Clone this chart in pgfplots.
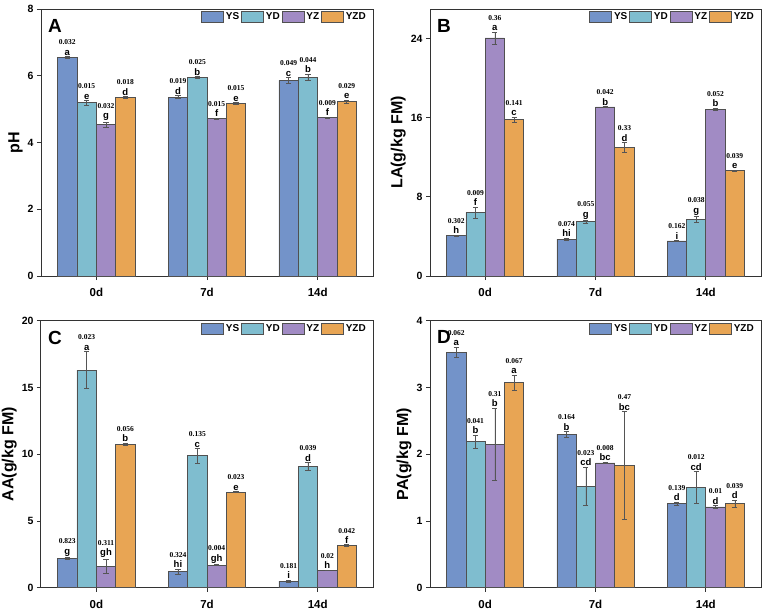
\documentclass[border=0pt]{standalone}
\usepackage{pgfplots}
\pgfplotsset{compat=1.18}
\usepackage{pgfplotstable}
\usepackage{fontspec}
\setmainfont{Liberation Sans}
\newfontfamily\numfont{Liberation Serif}

\definecolor{cYS}{HTML}{7393C9}
\definecolor{cYD}{HTML}{7FBDCF}
\definecolor{cYZ}{HTML}{A18BC4}
\definecolor{cYZD}{HTML}{E8A554}
\definecolor{bardraw}{HTML}{505050}
\definecolor{errc}{HTML}{555555}

% per treatment: mean, error, and label "SD/letter"
\pgfplotstableread{
x YS YSe YSl YD YDe YDl YZ YZe YZl YZD YZDe YZDl
0 6.55 0.03 0.032/a 5.19 0.07 0.015/e 4.54 0.07 0.032/g 5.34 0.03 0.018/d
1 5.36 0.04 0.019/d 5.95 0.03 0.025/b 4.72 0.02 0.015/f 5.17 0.03 0.015/e
2 5.86 0.09 0.049/c 5.95 0.10 0.044/b 4.74 0.02 0.009/f 5.22 0.05 0.029/e
}\tabPH

\pgfplotstableread{
x YS YSe YSl YD YDe YDl YZ YZe YZl YZD YZDe YZDl
0 4.08 0.05 0.302/h  6.43 0.55 0.009/f 24.08 0.60 0.36/a  15.80 0.25 0.141/c
1 3.74 0.10 0.074/hi 5.49 0.15 0.055/g 17.10 0.05 0.042/b 13.00 0.50 0.33/d
2 3.54 0.05 0.162/i  5.70 0.30 0.038/g 16.87 0.10 0.052/b 10.68 0.05 0.039/e
}\tabLA

\pgfplotstableread{
x YS YSe YSl YD YDe YDl YZ YZe YZl YZD YZDe YZDl
0 2.20 0.05 0.823/g  16.30 1.40 0.023/a 1.60 0.55 0.311/gh 10.76 0.07 0.056/b
1 1.20 0.20 0.324/hi  9.88 0.56 0.135/c 1.70 0.05 0.004/gh  7.16 0.03 0.023/e
2 0.50 0.07 0.181/i   9.08 0.30 0.039/d 1.32 0.02 0.02/h    3.17 0.05 0.042/f
}\tabAA

\pgfplotstableread{
x YS YSe YSl YD YDe YDl YZ YZe YZl YZD YZDe YZDl
0 3.53 0.075 0.062/a 2.19 0.10 0.041/b  2.15 0.54 0.31/b   3.07 0.115 0.067/a
1 2.30 0.04  0.164/b 1.52 0.29 0.023/cd 1.87 0.01 0.008/bc 1.83 0.81  0.47/bc
2 1.26 0.02  0.139/d 1.50 0.24 0.012/cd 1.21 0.02 0.01/d   1.26 0.05  0.039/d
}\tabPA

% "SD/letter" -> SD in serif over the letter in sans
\def\twolines#1/#2\relax{{\numfont\bfseries\fontsize{7.5}{8}\selectfont #1}\\[-1.5pt]{\bfseries\fontsize{9.5}{10}\selectfont #2}}

\pgfplotsset{
  panel/.style={
    ybar, scale only axis, width=332pt, height=267pt,
    xmin=-0.5, xmax=2.5, ymin=0,
    xtick={0,1,2}, xticklabels={0d,7d,14d},
    tick align=outside, tick pos=left,
    major tick length=4pt,
    axis line style={black!80, line width=1pt},
    every tick/.style={black!80, line width=0.9pt},
    /pgf/number format/assume math mode=true,
    yticklabel style={font=\bfseries\fontsize{10.5}{12}\selectfont},
    xticklabel style={font=\bfseries\fontsize{11.5}{13}\selectfont, yshift=-5pt},
    ylabel style={font=\bfseries\fontsize{16}{18}\selectfont, inner sep=1.5pt},
    legend columns=4,
    legend style={draw=none, fill=none, at={(1,1)}, anchor=north east,
      xshift=-5pt, yshift=-1.5pt, inner sep=0pt,
      font=\bfseries\fontsize{10}{11}\selectfont,
      /tikz/every even column/.append style={column sep=0pt}},
    clip=false,
  },
  barstyle/.style={
    bar width=0.175, draw=bardraw, line width=0.7pt,
    legend image code/.code={\draw[##1, draw=bardraw, line width=0.6pt] (0pt,-5.3pt) rectangle (22pt,5.3pt);},
    error bars/y dir=both, error bars/y explicit,
    error bars/error bar style={errc, line width=0.6pt},
    error bars/error mark options={errc, mark size=2.6pt, line width=0.6pt, rotate=90},
  },
  labelstyle/.style={
    forget plot, bar width=0.175, draw=none, fill=none,
    point meta=explicit symbolic,
    nodes near coords={\expandafter\twolines\pgfplotspointmeta\relax},
    every node near coord/.append style={anchor=south, align=center, inner sep=1pt, text=black},
  },
}

\newcommand{\bars}[4]{%
  \addplot[barstyle, fill=#4, bar shift=#3] table[x=x, y=#2, y error=#2e] {#1};
  \addplot[labelstyle, bar shift=#3]
    table[x=x, y expr=\thisrow{#2}+\thisrow{#2e}, meta=#2l] {#1};
}
\newcommand{\allbars}[1]{%
  \bars{#1}{YS}{-0.2625}{cYS}
  \bars{#1}{YD}{-0.0875}{cYD}
  \bars{#1}{YZ}{0.0875}{cYZ}
  \bars{#1}{YZD}{0.2625}{cYZD}
  \legend{YS,YD,YZ,YZD}
}
\newcommand{\panelletter}[1]{%
  \node[anchor=north west, inner sep=0pt, xshift=7pt, yshift=-10pt,
        font=\bfseries\fontsize{19}{20}\selectfont] at (rel axis cs:0,1) {#1};
}

\begin{document}
\begin{tikzpicture}
\useasboundingbox (0,0) rectangle (767pt,614pt);

% pH
\begin{axis}[panel, at={(41pt,338pt)}, anchor=south west,
  ymax=8, ytick={0,2,4,6,8}, ylabel={pH}]
  \allbars{\tabPH}
  \panelletter{A}
\end{axis}

% lactic acid
\begin{axis}[panel, width=331pt, at={(430pt,338pt)}, anchor=south west,
  ymax=27, ytick={0,8,16,24}, ylabel={LA(g/kg FM)}]
  \allbars{\tabLA}
  \panelletter{B}
\end{axis}

% acetic acid
\begin{axis}[panel, at={(41pt,26.3pt)}, anchor=south west,
  ymax=20, ytick={0,5,10,15,20}, ylabel={AA(g/kg FM)}]
  \allbars{\tabAA}
  \panelletter{C}
\end{axis}

% propionic acid
\begin{axis}[panel, width=331pt, at={(430pt,26.3pt)}, anchor=south west,
  ymax=4, ytick={0,1,2,3,4}, ylabel={PA(g/kg FM)}]
  \allbars{\tabPA}
  \panelletter{D}
\end{axis}
\end{tikzpicture}
\end{document}
